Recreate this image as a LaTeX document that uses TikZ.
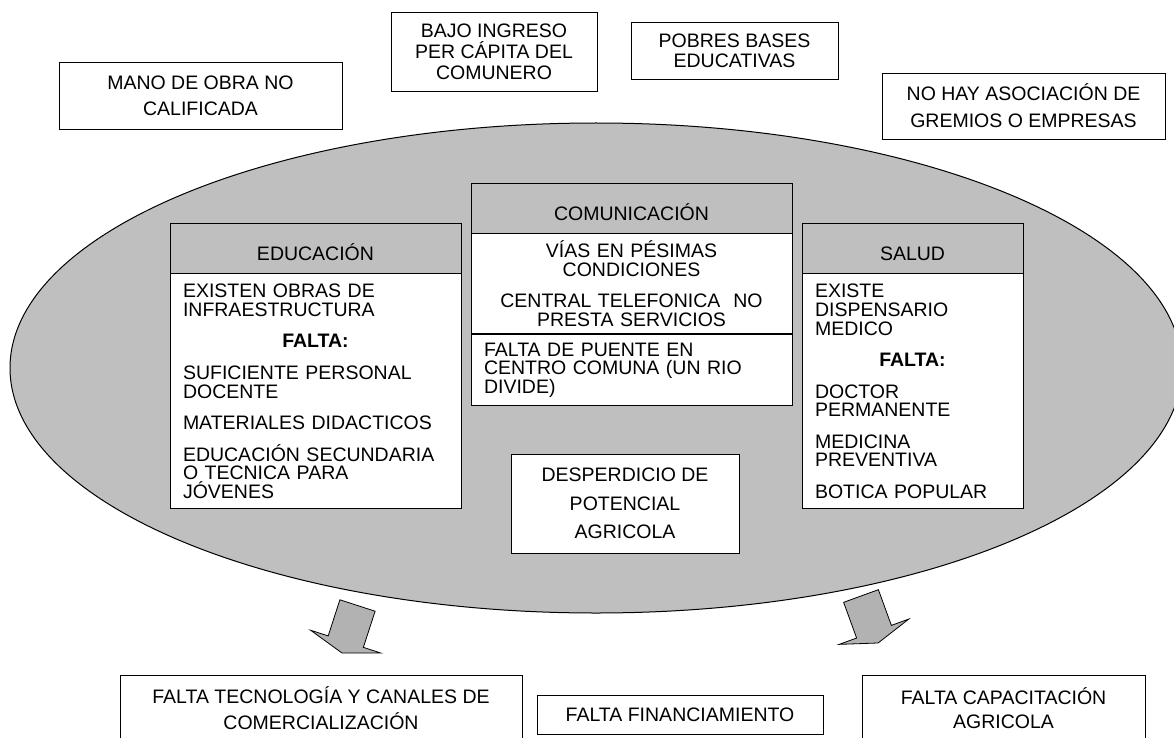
\documentclass[tikz,border=0pt]{standalone}
\usepackage{fontspec}
\setmainfont{Liberation Sans}
\usepackage{xcolor}
\colorlet{REGIONCOLOR}{black!25}
\colorlet{HEADCOLOR}{black!25}
\colorlet{ARROWCOLOR}{black!30}
\usepackage{tikz}
\usetikzlibrary{shapes,positioning}
\tikzset{
  basic-style/.style = {
    rectangle, draw, line width=0.8pt,
    fill=#1,
    inner sep=3pt
  },
  note-style/.style = {
    basic-style=white,
    align=center,
    font=\fontsize{19.5}{#1}\selectfont
  },
  note-style/.default = 26pt,
  head-style/.style = {
    basic-style=HEADCOLOR,
    minimum height=50pt,
    text height=25pt, text depth=0pt,
    font=\fontsize{19.5}{18.7}\selectfont
  },
  list-style/.style = {
    basic-style=white,
    align=#1,
    inner xsep=13pt,
    font=\fontsize{19.5}{18.7}\selectfont
  },
  list-style/.default = left,
  region-style/.style = {
    ellipse, draw, line width=1pt, fill=REGIONCOLOR, inner sep=0pt
  },
  arrow-style/.style = {
    draw, line width=0.8pt, fill=ARROWCOLOR, line join=miter
  }
}
\newcommand\parGap{\\[12.8pt]}
\newcommand\blockArrow[2]{
  \draw[arrow-style,shift={#1},rotate=#2]
    (0,18.5) -- (38,18.5) -- (38,37) -- (50,0) --
    (38,-37) -- (38,-18.5) -- (0,-18.5) -- cycle;
}

\begin{document}
\begin{tikzpicture}[x=1pt,y=-1pt]
    \useasboundingbox (0,0) rectangle (1174,738);
    \clip (0,0) rectangle (1174,738);

    %%% community
    \node[region-style,minimum width=1172,minimum height=490] (region) at (596,368) {};

    %%% problems above
    \node[note-style,minimum width=283,minimum height=67] (mano) at (200.5,95.5)
      {MANO DE OBRA NO\\CALIFICADA};
    \node[note-style=21pt,minimum width=206,minimum height=79] (bajo) at (494,51.5)
      {BAJO INGRESO\\PER CÁPITA DEL\\COMUNERO};
    \node[note-style=20pt,minimum width=207,minimum height=57] (pobres) at (734.5,50.5)
      {POBRES BASES\\EDUCATIVAS};
    \node[note-style=27pt,minimum width=283,minimum height=66] (noHay) at (1023.5,106)
      {NO HAY ASOCIACIÓN DE\\GREMIOS O EMPRESAS};

    %%% educacion
    \node[head-style,minimum width=291] (eduHead) at (315.5,248) {EDUCACIÓN};
    \node[list-style,text width=265,minimum height=235,below=0pt of eduHead] (eduBody) {
      EXISTEN OBRAS DE\\INFRAESTRUCTURA\parGap
      \makebox[\hsize]{\textbf{FALTA:}}\parGap
      SUFICIENTE PERSONAL\\DOCENTE\parGap
      MATERIALES DIDACTICOS\parGap
      EDUCACIÓN SECUNDARIA\\O TECNICA PARA\\JÓVENES};

    %%% comunicacion
    \node[head-style,minimum width=321] (comHead) at (631.5,208) {COMUNICACIÓN};
    \node[list-style=center,text width=295,minimum height=100,below=0pt of comHead] (comTop) {
      VÍAS EN PÉSIMAS\\CONDICIONES\parGap
      CENTRAL TELEFONICA~ NO\\PRESTA SERVICIOS};
    \node[list-style,text width=295,minimum height=71,below=0pt of comTop] (comBottom) {
      FALTA DE PUENTE EN\\CENTRO COMUNA (UN RIO\\DIVIDE)};

    %%% salud
    \node[head-style,minimum width=221] (saludHead) at (912.5,248) {SALUD};
    \node[list-style,text width=195,minimum height=235,below=0pt of saludHead] (saludBody) {
      EXISTE\\DISPENSARIO\\MEDICO\parGap
      \makebox[\hsize]{\textbf{FALTA:}}\parGap
      DOCTOR\\PERMANENTE\parGap
      MEDICINA\\PREVENTIVA\parGap
      BOTICA POPULAR};

    \node[note-style=28.5pt,minimum width=228,minimum height=99] (desperdicio) at (625,503.5)
      {DESPERDICIO DE\\POTENCIAL\\AGRICOLA};

    %%% arrows
    \blockArrow{(357.5,605.5)}{-108}
    \blockArrow{(861,596)}{-70}

    %%% consequences
    \node[note-style,minimum width=402,minimum height=67] (tecnologia) at (321,708.5)
      {FALTA TECNOLOGÍA Y CANALES DE\\COMERCIALIZACIÓN};
    \node[note-style,minimum width=286,minimum height=39] (financiamiento) at (680,714.5)
      {FALTA FINANCIAMIENTO};
    \node[note-style=24pt,minimum width=283,minimum height=67] (capacitacion) at (1003.5,708.5)
      {FALTA CAPACITACIÓN\\AGRICOLA};
  \end{tikzpicture}
\end{document}
